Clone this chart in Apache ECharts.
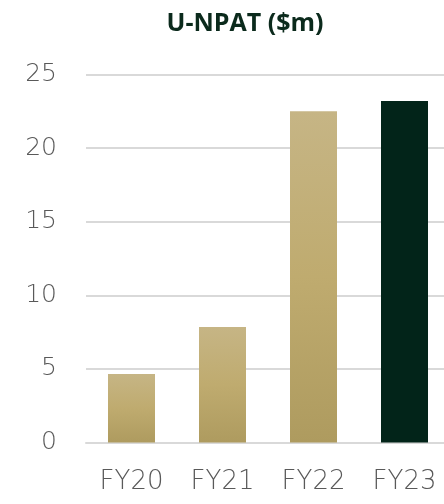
<!DOCTYPE html>
<html>
<head>
<meta charset="utf-8">
<script src="https://cdn.jsdelivr.net/npm/echarts@6/dist/echarts.min.js"></script>
<style>html,body{margin:0;padding:0;background:#fff}#c{width:444px;height:504px}</style>
</head>
<body>
<div id="c"></div>
<script>
const categories = ['FY20', 'FY21', 'FY22', 'FY23'];
const values = [4.65, 7.85, 22.5, 23.2];
const yTicks = [0, 5, 10, 15, 20, 25];
const titleText = 'U-NPAT ($m)';

const gold = new echarts.graphic.LinearGradient(0, 0, 0, 1, [
  { offset: 0, color: '#c6b585' },
  { offset: 0.5, color: '#bfab6f' },
  { offset: 1, color: '#ae9b5f' }
]);
const dark = '#022419';

const chart = echarts.init(document.getElementById('c'), null, { renderer: 'canvas' });
chart.setOption({
  animation: false,
  title: {
    text: titleText,
    left: 240, top: 6, textAlign: 'center',
    textStyle: { fontFamily: 'Open Sans', fontWeight: 'bold', fontSize: 25, color: '#0b2a1c' }
  },
  grid: { left: 86, width: 364, top: 74.5, bottom: 61.5, containLabel: false, outerBoundsMode: 'none' },
  xAxis: {
    type: 'category',
    data: categories,
    axisTick: { show: false },
    axisLine: { show: true, lineStyle: { color: '#d9d9d9', width: 2 } },
    axisLabel: { fontFamily: 'DejaVu Sans', fontWeight: 200, fontSize: 26, color: '#595959', margin: 27 }
  },
  yAxis: {
    type: 'value',
    min: yTicks[0], max: yTicks[yTicks.length - 1], interval: 5,
    axisLine: { show: false },
    axisTick: { show: false },
    splitLine: { lineStyle: { color: '#d9d9d9', width: 2 } },
    axisLabel: { fontFamily: 'DejaVu Sans', fontWeight: 200, fontSize: 25, color: '#595959', margin: 29 }
  },
  series: [{
    type: 'bar',
    barWidth: 47,
    data: values.map((v, i) => ({ value: v, itemStyle: { color: i === values.length - 1 ? dark : gold } }))
  }]
});
</script>
</body>
</html>
